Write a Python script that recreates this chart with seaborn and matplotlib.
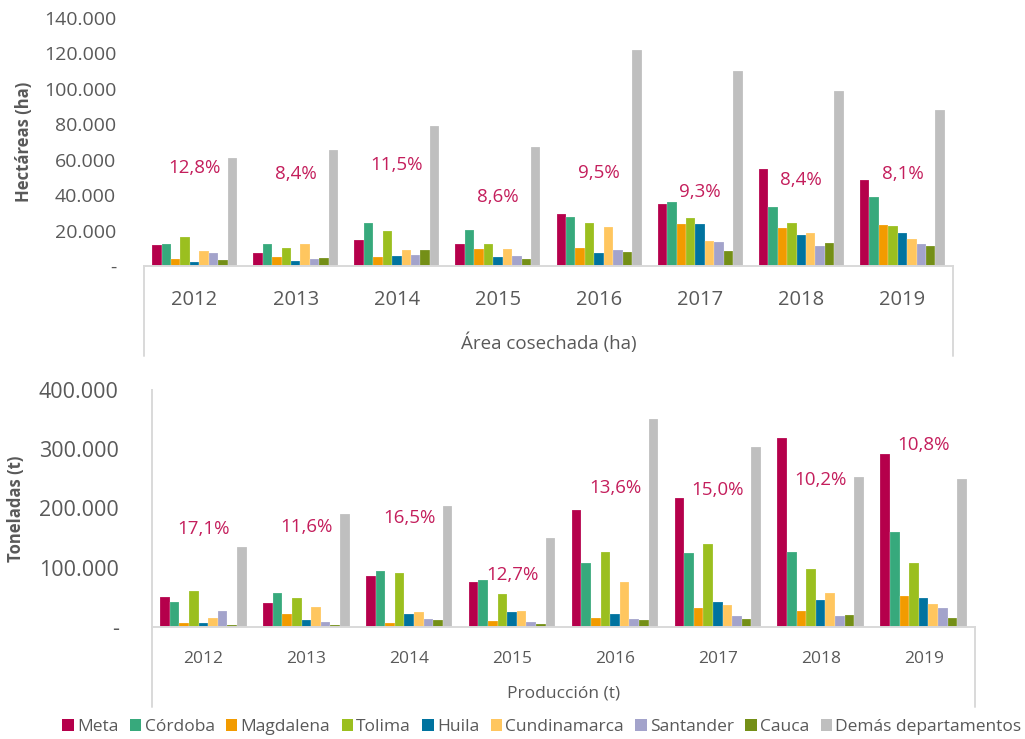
import matplotlib
matplotlib.use("Agg")
import matplotlib.pyplot as plt
from matplotlib.lines import Line2D
from matplotlib.patches import Patch
import matplotlib.ticker as ticker
import seaborn as sns
import pandas as pd

# Datos
years = ["2012", "2013", "2014", "2015", "2016", "2017", "2018", "2019"]
departments = ["Meta", "Córdoba", "Magdalena", "Tolima", "Huila",
               "Cundinamarca", "Santander", "Cauca", "Demás departamentos"]

# Área cosechada (ha), una lista por departamento
area = {
    "Meta":                [11800, 7200, 14500, 12400, 29400, 35000, 54600, 48600],
    "Córdoba":             [12600, 12200, 24500, 20500, 27900, 36200, 33300, 39000],
    "Magdalena":           [4100, 4900, 5100, 9800, 10000, 23900, 21300, 23200],
    "Tolima":              [16400, 10300, 19800, 12400, 24500, 26900, 24500, 22400],
    "Huila":               [2300, 2600, 5800, 5100, 7500, 23900, 17300, 18800],
    "Cundinamarca":        [8300, 12200, 8900, 9800, 21900, 14100, 18800, 15400],
    "Santander":           [7300, 4000, 6200, 5600, 9000, 13600, 11300, 12400],
    "Cauca":               [3400, 4500, 9200, 4100, 8100, 8500, 13000, 11300],
    "Demás departamentos": [61000, 65500, 79100, 67200, 121900, 109800, 98700, 88000],
}

# Producción (t)
produccion = {
    "Meta":                [51300, 40000, 86100, 75500, 198300, 217900, 318200, 291700],
    "Córdoba":             [41700, 58100, 95300, 78900, 107600, 124500, 126700, 159500],
    "Magdalena":           [6200, 22600, 6200, 10100, 15200, 31600, 26500, 51900],
    "Tolima":              [60300, 48500, 91900, 55700, 126200, 139700, 98000, 107600],
    "Huila":               [6800, 12500, 22000, 25300, 22600, 41700, 45100, 49700],
    "Cundinamarca":        [14700, 33800, 25300, 27000, 76000, 36700, 56900, 39500],
    "Santander":           [26500, 7900, 13000, 8400, 13500, 19300, 18100, 32800],
    "Cauca":               [2800, 3400, 11300, 4600, 11300, 13000, 19800, 14700],
    "Demás departamentos": [134600, 189900, 203900, 149800, 350300, 303000, 254000, 249000],
}

# Participación del Meta (etiquetas) y altura donde van
pct_area = ["12,8%", "8,4%", "11,5%", "8,6%", "9,5%", "9,3%", "8,4%", "8,1%"]
pct_area_y = [55500, 52100, 57000, 39100, 52300, 41900, 48500, 51900]
pct_prod = ["17,1%", "11,6%", "16,5%", "12,7%", "13,6%", "15,0%", "10,2%", "10,8%"]
pct_prod_y = [164700, 168900, 183300, 87000, 234000, 230600, 247500, 307300]

colors = ["#B5004B", "#37A97C", "#F29B00", "#9BBF1F", "#00739F",
          "#FFC65F", "#A3A3CB", "#748F17", "#BFBFBF"]
palette = dict(zip(departments, colors))

GRIS = "#595959"
LINEA = "#D9D9D9"
ROJO = "#C41E5C"

sns.set_style("white")
plt.rcParams['font.family'] = ['Open Sans', 'DejaVu Sans']


def to_long(data):
    rows = []
    for dept in departments:
        for y, v in zip(years, data[dept]):
            rows.append({"year": y, "dept": dept, "value": v})
    return pd.DataFrame(rows)


def miles(x, pos):
    if x == 0:
        return "-"
    return f"{int(x):,}".replace(",", ".")


W, H = 1025, 739
fig = plt.figure(figsize=(W / 100, H / 100), dpi=100)


def fig_box(left, top_px, right, bottom_px):
    return [left / W, (H - bottom_px) / H, (right - left) / W, (bottom_px - top_px) / H]


# ---------- gráfico superior: área cosechada ----------
ax1 = fig.add_axes(fig_box(144, 18, 953, 266))
sns.barplot(data=to_long(area), x="year", y="value", hue="dept",
            palette=palette, saturation=1, width=0.84, errorbar=None, ax=ax1,
            edgecolor="#FFFFFF80", linewidth=0.3, legend=False)
ax1.set_ylim(0, 140000)
ax1.set_xlim(-0.5, 7.5)
ax1.yaxis.set_major_locator(ticker.MultipleLocator(20000))
ax1.yaxis.set_major_formatter(ticker.FuncFormatter(miles))
for s in ["top", "right", "left"]:
    ax1.spines[s].set_visible(False)
ax1.spines["bottom"].set_color(LINEA)
ax1.spines["bottom"].set_linewidth(1.4)
ax1.tick_params(axis="y", length=0, pad=20, labelsize=14, labelcolor=GRIS)
ax1.tick_params(axis="x", length=0, pad=17, labelsize=14.5, labelcolor=GRIS)
ax1.set_xlabel("")
ax1.set_ylabel("Hectáreas (ha)", fontsize=12, fontweight="bold", color=GRIS)
ax1.yaxis.set_label_coords(-0.137, 0.5)
for i, (txt, yy) in enumerate(zip(pct_area, pct_area_y)):
    ax1.text(i, yy, txt, ha="center", va="center", color=ROJO, fontsize=13.5)

fig.text(548.5 / W, 1 - 343 / H, "Área cosechada (ha)", ha="center", va="center",
         fontsize=13.5, color=GRIS)
for xp in (144, 953):
    fig.add_artist(Line2D([xp / W, xp / W], [1 - 266 / H, 1 - 356 / H],
                          color=LINEA, lw=1.4))

# ---------- gráfico inferior: producción ----------
ax2 = fig.add_axes(fig_box(152, 390, 975, 627))
sns.barplot(data=to_long(produccion), x="year", y="value", hue="dept",
            palette=palette, saturation=1, width=0.84, errorbar=None, ax=ax2,
            edgecolor="#FFFFFF80", linewidth=0.3, legend=False)
ax2.set_ylim(0, 400000)
ax2.set_xlim(-0.5, 7.5)
ax2.yaxis.set_major_locator(ticker.MultipleLocator(100000))
ax2.yaxis.set_major_formatter(ticker.FuncFormatter(miles))
for s in ["top", "right"]:
    ax2.spines[s].set_visible(False)
for s in ["bottom", "left"]:
    ax2.spines[s].set_color(LINEA)
    ax2.spines[s].set_linewidth(1.4)
ax2.tick_params(axis="y", direction="in", length=6.5, width=1.4, color=LINEA,
                pad=24, labelsize=15.5, labelcolor=GRIS)
ax2.tick_params(axis="x", length=0, pad=17, labelsize=12.5, labelcolor=GRIS)
ax2.set_xlabel("")
ax2.set_ylabel("Toneladas (t)", fontsize=12, fontweight="bold", color=GRIS)
ax2.yaxis.set_label_coords(-0.154, 0.5)
for i, (txt, yy) in enumerate(zip(pct_prod, pct_prod_y)):
    ax2.text(i, yy, txt, ha="center", va="center", color=ROJO, fontsize=13.5)

fig.text(563.5 / W, 1 - 693 / H, "Producción (t)", ha="center", va="center",
         fontsize=12.5, color=GRIS)
for xp in (152, 975):
    fig.add_artist(Line2D([xp / W, xp / W], [1 - 627 / H, 1 - 707 / H],
                          color=LINEA, lw=1.4))

# Leyenda común
handles = [Patch(facecolor=c, edgecolor="none") for c in colors]
fig.legend(handles, departments, loc="center", ncol=9,
           bbox_to_anchor=(542 / W, 1 - 727 / H), frameon=False,
           fontsize=12.5, labelcolor=GRIS, handlelength=0.65, handleheight=0.65,
           handletextpad=0.2, columnspacing=0.65, borderaxespad=0, borderpad=0)

fig.savefig("out.png", dpi=100)
